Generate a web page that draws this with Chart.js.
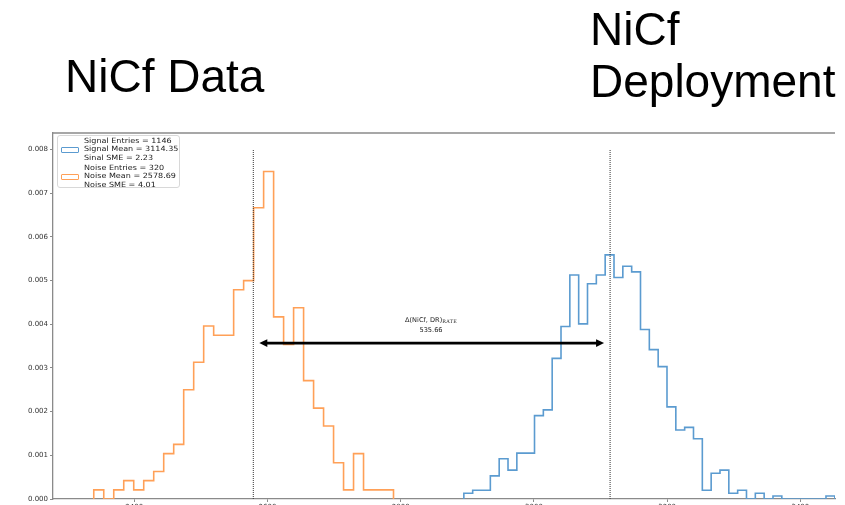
<!DOCTYPE html>
<html>
<head>
<meta charset="utf-8">
<script src="https://cdn.jsdelivr.net/npm/chart.js@4.4.1/dist/chart.umd.min.js"></script>
<style>
    html, body { margin: 0; padding: 0; background: #fff; overflow: hidden; }
    #pagina { position: relative; width: 845px; height: 505px; overflow: hidden; }
    #caixaGrafico { position: absolute; left: 0; top: 0; width: 845px; height: 520px; }
    .titulo {
        position: absolute;
        font-family: "Liberation Sans", Arial, sans-serif;
        font-size: 46px;
        line-height: 52px;
        color: #000;
        white-space: nowrap;
    }
    #legenda {
        position: absolute;
        left: 57px; top: 135px;
        width: 123px; height: 53px;
        box-sizing: border-box;
        border: 1px solid #d8d8d8;
        border-radius: 3px;
        background: rgba(255,255,255,0.85);
    }
    #legenda .marca {
        position: absolute;
        left: 3px;
        width: 16px; height: 4px;
        border: 1.3px solid;
        border-radius: 1px;
    }
    #legenda .texto {
        position: absolute;
        left: 26px;
        font-family: "DejaVu Sans", sans-serif;
        font-size: 7.2px;
        line-height: 8.3px;
        color: #222;
        white-space: nowrap;
        transform: scaleX(1.12);
        transform-origin: left top;
    }
    #anotacao {
        position: absolute;
        left: 381px; top: 316px;
        width: 100px;
        text-align: center;
        font-family: "DejaVu Sans", sans-serif;
        font-size: 6.6px;
        line-height: 8px;
        color: #222;
        white-space: nowrap;
    }
    #anotacao sub {
        font-family: "DejaVu Serif", serif;
        font-size: 4.8px;
        vertical-align: -1px;
        letter-spacing: 0.3px;
    }
</style>
</head>
<body>
<div id="pagina">
    <div id="caixaGrafico"><canvas id="graficoHist"></canvas></div>

    <div class="titulo" style="left:65px; top:50px;">NiCf Data</div>
    <div class="titulo" style="left:590px; top:3px;">NiCf<br>Deployment</div>

    <div id="legenda">
        <div class="marca" style="top:11px; border-color:#5b9bd0;"></div>
        <div class="texto" style="top:1px;">Signal Entries = 1146<br>Signal Mean = 3114.35<br>Sinal SME = 2.23</div>
        <div class="marca" style="top:38px; border-color:#ffa057;"></div>
        <div class="texto" style="top:28px;">Noise Entries = 320<br>Noise Mean = 2578.69<br>Noise SME = 4.01</div>
    </div>

    <div id="anotacao">&Delta;(NiCf, DR)<sub>RATE</sub><br>535.66</div>
</div>

<script>
// eixos
const ticksX = [2400, 2600, 2800, 3000, 3200, 3400];
const ticksY = [0, 0.001, 0.002, 0.003, 0.004, 0.005, 0.006, 0.007, 0.008];

// histograma do ruido (NiCf data)
const inicioRuido = 2339.2;
const larguraRuido = 15;
const densidadeRuido = [
    0.00021, 0, 0.00021, 0.00042, 0.00021, 0.00042, 0.00063, 0.00104, 0.00125, 0.0025,
    0.00313, 0.00396, 0.00375, 0.00375, 0.00479, 0.005, 0.00667, 0.0075, 0.00417, 0.00354,
    0.00438, 0.00271, 0.00208, 0.00167, 0.00083, 0.00021, 0.00104, 0.00021, 0.00021, 0.00021
];

// histograma do sinal (deployment)
const inicioSinal = 2894.8;
const larguraSinal = 13.26;
const densidadeSinal = [
    0.00013, 0.0002, 0.0002, 0.00053, 0.00092, 0.00066, 0.00105, 0.00105, 0.00191, 0.00204,
    0.00322, 0.00395, 0.00513, 0.00401, 0.00493, 0.00513, 0.00559, 0.00507, 0.00533, 0.0052,
    0.00388, 0.00342, 0.00303, 0.00211, 0.00158, 0.00164, 0.00138, 0.0002, 0.00059, 0.00066,
    0.00013, 0.0002, 0, 0.00013, 0, 0.00007, 0, 0, 0, 0,
    0, 0.00007
];

// medias e seta
const mediaRuido = 2578.69;
const mediaSinal = 3114.35;
const topoLinhaMedia = 0.008;
const alturaSeta = 0.00357;

function degraus(inicio, largura, valores) {
    const pontos = [{ x: inicio, y: 0 }];
    valores.forEach((v, i) => {
        pontos.push({ x: inicio + i * largura, y: v });
    });
    pontos.push({ x: inicio + valores.length * largura, y: 0 });
    return pontos;
}

const corSinal = "#5b9bd0";
const corRuido = "#ffa057";

const pluginMoldura = {
    id: "moldura",
    afterDraw(chart) {
        const a = chart.chartArea;
        const c = chart.ctx;
        c.save();
        c.strokeStyle = "#8a8a8a";
        c.lineWidth = 1.3;
        c.beginPath();
        c.moveTo(a.left, a.top);
        c.lineTo(a.right, a.top);
        c.stroke();
        c.restore();
    }
};

const pluginSeta = {
    id: "seta",
    afterDatasetsDraw(chart) {
        const sx = chart.scales.x;
        const sy = chart.scales.y;
        const c = chart.ctx;
        const x1 = sx.getPixelForValue(mediaRuido) + 6;
        const x2 = sx.getPixelForValue(mediaSinal) - 6;
        const y = sy.getPixelForValue(alturaSeta);
        const cab = 8, meia = 3.8;
        c.save();
        c.strokeStyle = "#000";
        c.fillStyle = "#000";
        c.lineWidth = 2.6;
        c.beginPath();
        c.moveTo(x1 + cab - 1, y);
        c.lineTo(x2 - cab + 1, y);
        c.stroke();
        c.beginPath();
        c.moveTo(x1, y);
        c.lineTo(x1 + cab, y - meia);
        c.lineTo(x1 + cab, y + meia);
        c.closePath();
        c.fill();
        c.beginPath();
        c.moveTo(x2, y);
        c.lineTo(x2 - cab, y - meia);
        c.lineTo(x2 - cab, y + meia);
        c.closePath();
        c.fill();
        c.restore();
    }
};

const ctx = document.getElementById("graficoHist").getContext("2d");

new Chart(ctx, {
    type: "line",
    data: {
        datasets: [
            {
                label: "Signal",
                data: degraus(inicioSinal, larguraSinal, densidadeSinal),
                borderColor: corSinal,
                borderWidth: 1.6,
                stepped: "before",
                pointRadius: 0,
                fill: false,
                order: 2
            },
            {
                label: "Noise",
                data: degraus(inicioRuido, larguraRuido, densidadeRuido),
                borderColor: corRuido,
                borderWidth: 1.6,
                stepped: "before",
                pointRadius: 0,
                fill: false,
                order: 2
            },
            {
                label: "Noise mean",
                data: [{ x: mediaRuido, y: 0 }, { x: mediaRuido, y: topoLinhaMedia }],
                borderColor: "#333",
                borderWidth: 1,
                borderDash: [1, 1],
                pointRadius: 0,
                order: 1
            },
            {
                label: "Signal mean",
                data: [{ x: mediaSinal, y: 0 }, { x: mediaSinal, y: topoLinhaMedia }],
                borderColor: "#333",
                borderWidth: 1,
                borderDash: [1, 1],
                pointRadius: 0,
                order: 1
            }
        ]
    },
    options: {
        responsive: true,
        maintainAspectRatio: false,
        animation: false,
        layout: { padding: { top: 133, right: 10, bottom: 0, left: 0 } },
        plugins: {
            legend: { display: false },
            tooltip: { enabled: false }
        },
        scales: {
            x: {
                type: "linear",
                min: 2278,
                max: 3452,
                afterBuildTicks: s => { s.ticks = ticksX.map(v => ({ value: v })); },
                afterFit: s => { s.height = 21; },
                ticks: {
                    autoSkip: false,
                    maxRotation: 0,
                    padding: 1,
                    color: "#333",
                    font: { family: "DejaVu Sans", size: 7 },
                    callback: v => String(v)
                },
                grid: { drawOnChartArea: false, tickLength: 3, color: "#8a8a8a" },
                border: { color: "#8a8a8a", width: 1.3 }
            },
            y: {
                min: 0,
                max: 0.00838,
                afterBuildTicks: s => { s.ticks = ticksY.map(v => ({ value: v })); },
                afterFit: s => { s.width = 53; },
                ticks: {
                    padding: 2,
                    color: "#333",
                    font: { family: "DejaVu Sans", size: 7 },
                    callback: v => Number(v).toFixed(3)
                },
                grid: { drawOnChartArea: false, tickLength: 3, color: "#8a8a8a" },
                border: { color: "#8a8a8a", width: 1.3 }
            }
        }
    },
    plugins: [pluginMoldura, pluginSeta]
});
</script>
</body>
</html>
